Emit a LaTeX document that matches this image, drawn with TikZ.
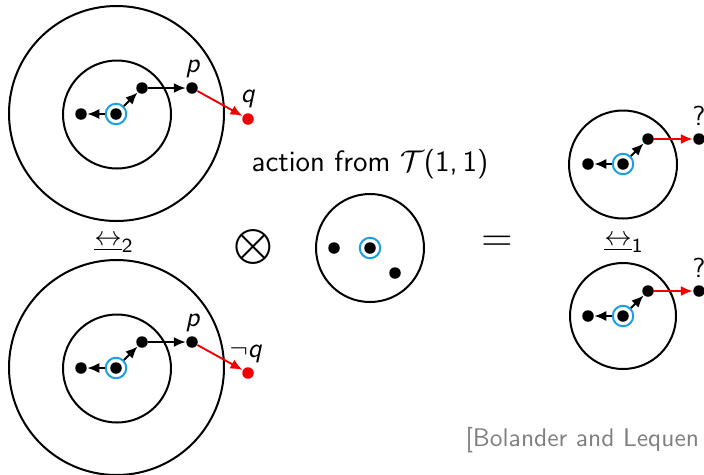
\documentclass[tikz,border=0pt]{standalone}
\usetikzlibrary{arrows.meta, positioning}
\renewcommand{\familydefault}{\sfdefault}
\definecolor{ringblue}{HTML}{1BA1E2}
\definecolor{movered}{HTML}{F00000}
\definecolor{citegray}{HTML}{808080}

\begin{document}
\begin{tikzpicture}[x=0.4pt, y=-0.4pt,
  font=\fontsize{11}{13}\selectfont,
  world/.style={draw, line width=0.8pt},
  dot/.style={circle, fill=black, inner sep=0pt, minimum size=4.6pt},
  reddot/.style={dot, fill=movered},
  actual/.style={circle, draw=ringblue, line width=0.8pt, inner sep=0pt,
                 minimum size=8.2pt, label={[dot]center:{}}},
  edge/.style={draw, line width=0.75pt, -{Latex[length=4.8pt, width=4pt]}},
  redge/.style={edge, draw=movered, fill=movered},
  lab/.style={anchor=base, inner sep=0pt},
  cite/.style={anchor=west, text=citegray, inner sep=0pt,
               font=\fontsize{10.2}{12}\selectfont},
]
\useasboundingbox (0,0) rectangle (704,474);

% left top: pointed model with q
\draw[world] (116.5,113.5) circle[radius=107.5];
\draw[world] (117,114.5) circle[radius=54];
\node[actual] (ta) at (116,114) {};
\node[dot] (tl) at (81,114) {};
\node[dot] (tu) at (142,88) {};
\node[dot] (tp) at (192,88) {};
\node[reddot] (tq) at (248,119) {};
\node[lab] (tplab) at (193,72) {\textit{p}};
\node[lab] (tqlab) at (248,102) {\textit{q}};
\draw[edge] (ta) -- (tl);
\draw[edge] (ta) -- (tu);
\draw[edge] (tu) -- (tp);
\draw[redge] (tp) -- (tq);

\node (bistwo) at (114,244) {$\underline{\leftrightarrow}_{\mathsf{2}}$};

% left bottom: pointed model with not q
\draw[world] (116.5,367.5) circle[radius=107.5];
\draw[world] (117,368.5) circle[radius=54];
\node[actual] (ba) at (116,368) {};
\node[dot] (bl) at (81,368) {};
\node[dot] (bu) at (142,342) {};
\node[dot] (bp) at (192,342) {};
\node[reddot] (bq) at (248,373) {};
\node[lab] (bplab) at (193,326) {\textit{p}};
\node[lab] (bqlab) at (246,357) {$\neg$\textit{q}};
\draw[edge] (ba) -- (bl);
\draw[edge] (ba) -- (bu);
\draw[edge] (bu) -- (bp);
\draw[redge] (bp) -- (bq);

% product with the action
\node (times) at (253,247) {$\displaystyle\bigotimes$};
\node[font=\fontsize{11.8}{14}\selectfont] (acttitle) at (370,164)
  {action from $\mathcal{T}$(1,\,1)};
\draw[world] (370,248) circle[radius=54];
\node[dot] (el) at (334,248) {};
\node[actual] (ea) at (370,248) {};
\node[dot] (er) at (395,273) {};
\node (equals) at (497,244) {\LARGE$=$};

% right: the two results
\draw[world] (623,164.5) circle[radius=54];
\node[actual] (ra) at (623,164) {};
\node[dot] (rl) at (588,164) {};
\node[dot] (ru) at (648,139) {};
\node[dot] (rr) at (699,139) {};
\node[lab] (rqlab) at (699,125) {?};
\draw[edge] (ra) -- (rl);
\draw[edge] (ra) -- (ru);
\draw[redge] (ru) -- (rr);

\node (bisone) at (624,244) {$\underline{\leftrightarrow}_{\mathsf{1}}$};

\draw[world] (623,316) circle[radius=53];
\node[actual] (sa) at (623,316) {};
\node[dot] (sl) at (588,316) {};
\node[dot] (su) at (648,291) {};
\node[dot] (sr) at (699,291) {};
\node[lab] (sqlab) at (699,277) {?};
\draw[edge] (sa) -- (sl);
\draw[edge] (sa) -- (su);
\draw[redge] (su) -- (sr);

\node[cite] (source) at (465,440) {[Bolander and Lequen};
\end{tikzpicture}
\end{document}
